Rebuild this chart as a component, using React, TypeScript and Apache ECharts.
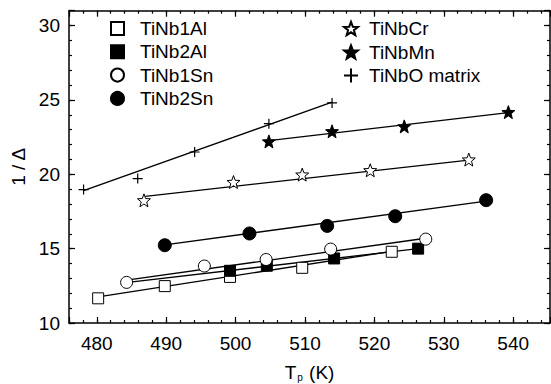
import React, { useEffect, useRef } from "react";
import * as echarts from "echarts";

// ---- data ----
const tiNb1AlX = [480.2, 489.8, 499.2, 509.6, 522.5];
const tiNb1AlY = [11.66, 12.48, 13.1, 13.71, 14.79];
const tiNb2AlX = [499.2, 504.5, 514.2, 526.3];
const tiNb2AlY = [13.51, 13.85, 14.34, 15.0];
const tiNb1SnX = [484.3, 495.5, 504.4, 513.7, 527.4];
const tiNb1SnY = [12.73, 13.83, 14.27, 14.97, 15.64];
const tiNb2SnX = [489.8, 502.0, 513.2, 523.0, 536.1];
const tiNb2SnY = [15.23, 16.02, 16.53, 17.18, 18.26];
const tiNbCrX = [486.8, 499.7, 509.6, 519.4, 533.6];
const tiNbCrY = [18.25, 19.48, 19.98, 20.27, 20.99];
const tiNbMnX = [504.8, 513.9, 524.3, 539.3];
const tiNbMnY = [22.21, 22.89, 23.22, 24.18];
const matrixX = [478.1, 485.9, 494.1, 504.8, 513.9];
const matrixY = [18.97, 19.71, 21.5, 23.4, 24.8];

// linear fit endpoints [x0, y0, x1, y1]
const fitTiNb1Al = [480.2, 11.75, 522.5, 14.82];
const fitTiNb2Al = [484.5, 12.73, 526.3, 15.0];
const fitTiNb1Sn = [484.3, 12.88, 527.4, 15.7];
const fitTiNb2Sn = [489.8, 15.25, 536.1, 18.2];
const fitTiNbCr = [487.0, 18.52, 533.6, 20.95];
const fitTiNbMn = [504.8, 22.26, 539.3, 24.15];
const fitMatrix = [478.1, 18.9, 513.9, 24.85];

const seriesNames = ["TiNb1Al", "TiNb2Al", "TiNb1Sn", "TiNb2Sn", "TiNbCr", "TiNbMn", "TiNbO matrix"];
const legendLeftNames = ["TiNb1Al", "TiNb2Al", "TiNb1Sn", "TiNb2Sn"];
const legendRightNames = ["TiNbCr", "TiNbMn", "TiNbO matrix"];

const xMin = 476;
const xMax = 545.3;
const yMin = 10;
const yMax = 31;

// ---- styles ----
const FONT = "'Liberation Sans', Arial, sans-serif";
const FS = 19;

function starPath(): string {
  const pts: string[] = [];
  for (let k = 0; k < 10; k++) {
    const r = k % 2 === 0 ? 10 : 4.2;
    const a = (-90 + 36 * k) * (Math.PI / 180);
    const x = (10 + r * Math.cos(a)).toFixed(3);
    const y = (10 + r * Math.sin(a)).toFixed(3);
    pts.push((k === 0 ? "M" : "L") + x + "," + y);
  }
  return "path://" + pts.join("") + "Z";
}
const STAR = starPath();
const PLUS = "path://M5,0L5,10M0,5L10,5";

const zip = (xs: number[], ys: number[]) => xs.map((x, i) => [x, ys[i]]);

export default function App() {
  const ref = useRef<HTMLDivElement>(null);
  useEffect(() => {
    if (!ref.current) return;
    const chart = echarts.init(ref.current, undefined, { renderer: "svg" });

    const scatter = (name: string, xs: number[], ys: number[], symbol: string, size: number, filled: boolean, strokeOnly = false) => ({
      type: "scatter",
      name,
      data: zip(xs, ys),
      symbol,
      symbolSize: size,
      z: 3,
      itemStyle: {
        color: strokeOnly ? "transparent" : filled ? "#000" : "#fff",
        borderColor: "#000",
        borderWidth: strokeOnly ? 1.2 : 1,
        opacity: 1,
      },
    });
    const fit = (f: number[]) => ({
      type: "line",
      data: [
        [f[0], f[1]],
        [f[2], f[3]],
      ],
      symbol: "none",
      silent: true,
      z: 2,
      lineStyle: { color: "#000", width: 1.3 },
    });

    const tickLabel = { fontSize: FS, color: "#000", fontFamily: FONT };
    const axisLine = { show: true, onZero: false, lineStyle: { color: "#000", width: 1.5 } };
    const majorX = (pos: string, labels: boolean) => ({
      type: "value",
      position: pos,
      min: xMin,
      max: xMax,
      splitNumber: 7,
      axisLine,
      axisTick: { show: true, inside: true, length: 6, lineStyle: { color: "#000", width: 1.2 } },
      axisLabel: labels
        ? { ...tickLabel, margin: 11, formatter: (v: number) => (Math.abs(v % 10) < 1e-6 ? String(v) : "") }
        : { show: false },
      splitLine: { show: false },
    });
    const minorX = (pos: string) => ({
      type: "value",
      position: pos,
      min: xMin,
      max: xMax,
      interval: 2,
      axisLine: { show: false },
      axisTick: { show: true, inside: true, length: 3, lineStyle: { color: "#000", width: 1.2 } },
      axisLabel: { show: false },
      splitLine: { show: false },
    });
    const majorY = (pos: string, labels: boolean) => ({
      type: "value",
      position: pos,
      min: yMin,
      max: yMax,
      interval: 5,
      axisLine,
      axisTick: { show: true, inside: true, length: 6, lineStyle: { color: "#000", width: 1.2 } },
      axisLabel: labels
        ? { ...tickLabel, margin: 9, formatter: (v: number) => (v % 5 === 0 ? String(v) : "") }
        : { show: false },
      splitLine: { show: false },
    });
    const minorY = (pos: string) => ({
      type: "value",
      position: pos,
      min: yMin,
      max: yMax,
      interval: 1,
      axisLine: { show: false },
      axisTick: { show: true, inside: true, length: 3, lineStyle: { color: "#000", width: 1.2 } },
      axisLabel: { show: false },
      splitLine: { show: false },
    });

    const legendText = (padLeft: number) => ({
      fontSize: FS,
      color: "#000",
      fontFamily: FONT,
      lineHeight: 19,
      padding: [0, 0, 0, padLeft],
    });

    chart.setOption({
      animation: false,
      backgroundColor: "#fff",
      grid: { left: 69, right: 1, top: 10.7, bottom: 61, containLabel: false, outerBoundsMode: "none" },
      legend: [
        {
          orient: "vertical",
          left: 110,
          top: 19,
          padding: 0,
          itemWidth: 13,
          itemHeight: 13,
          itemGap: 4.3,
          selectedMode: false,
          data: legendLeftNames,
          textStyle: legendText(11),
        },
        {
          orient: "vertical",
          left: 343,
          top: 19,
          padding: 0,
          itemWidth: 14,
          itemHeight: 14,
          itemGap: 4.5,
          selectedMode: false,
          data: legendRightNames,
          textStyle: legendText(6),
        },
      ],
      xAxis: [
        {
          ...majorX("bottom", true),
          name: "{t|T}{s|p}{t| (K)}",
          nameLocation: "middle",
          nameGap: 40,
          nameTextStyle: {
            fontFamily: FONT,
            color: "#000",
            lineHeight: 19,
            rich: {
              t: { fontSize: FS, fontFamily: FONT, color: "#000", lineHeight: 19, verticalAlign: "bottom" },
              s: { fontSize: 10, fontFamily: FONT, color: "#000", lineHeight: 10, verticalAlign: "bottom", padding: [0, 1, 0, 1] },
            },
          },
        },
        minorX("bottom"),
        majorX("top", false),
        minorX("top"),
      ],
      yAxis: [
        {
          ...majorY("left", true),
          name: "1 / Δ",
          nameLocation: "middle",
          nameGap: 36,
          nameTextStyle: { fontSize: FS, color: "#000", fontFamily: FONT },
        },
        minorY("left"),
        majorY("right", false),
        minorY("right"),
      ],
      series: [
        fit(fitTiNb1Al),
        fit(fitTiNb2Al),
        fit(fitTiNb1Sn),
        fit(fitTiNb2Sn),
        fit(fitTiNbCr),
        fit(fitTiNbMn),
        fit(fitMatrix),
        scatter(seriesNames[0], tiNb1AlX, tiNb1AlY, "rect", 11, false),
        scatter(seriesNames[1], tiNb2AlX, tiNb2AlY, "rect", 11, true),
        scatter(seriesNames[2], tiNb1SnX, tiNb1SnY, "circle", 12, false),
        scatter(seriesNames[3], tiNb2SnX, tiNb2SnY, "circle", 13, true),
        scatter(seriesNames[4], tiNbCrX, tiNbCrY, STAR, 13, false),
        scatter(seriesNames[5], tiNbMnX, tiNbMnY, STAR, 13, true),
        scatter(seriesNames[6], matrixX, matrixY, PLUS, 10, false, true),
      ],
    });
    return () => chart.dispose();
  }, []);
  return <div ref={ref} style={{ width: 551, height: 384, position: "absolute", left: 0, top: 0 }} />;
}
